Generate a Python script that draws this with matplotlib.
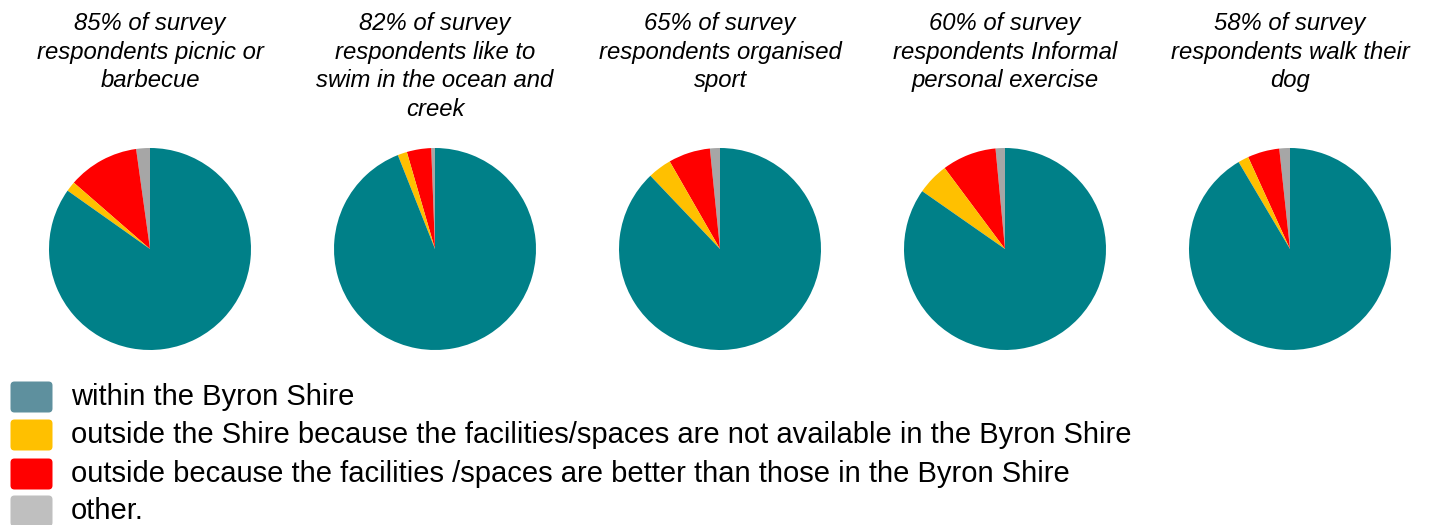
import matplotlib.pyplot as plt
from matplotlib.patches import FancyBboxPatch

plt.rcParams['font.family'] = ['Liberation Sans', 'DejaVu Sans']

# Share of respondents (%) by where they do the activity
titles = [
    "85% of survey\nrespondents picnic or\nbarbecue",
    "82% of survey\nrespondents like to\nswim in the ocean and\ncreek",
    "65% of survey\nrespondents organised\nsport",
    "60% of survey\nrespondents Informal\npersonal exercise",
    "58% of survey\nrespondents walk their\ndog",
]
within_shire = [84.8, 94.0, 87.9, 84.7, 91.5]
not_available = [1.6, 1.5, 3.8, 5.1, 1.7]
better_outside = [11.4, 3.9, 6.7, 8.7, 5.1]
other = [2.2, 0.6, 1.6, 1.5, 1.7]

legend_labels = [
    "within the Byron Shire",
    "outside the Shire because the facilities/spaces are not available in the Byron Shire",
    "outside because the facilities /spaces are better than those in the Byron Shire",
    "other.",
]
pie_colors = ["#A6A6A6", "#FF0000", "#FFC000", "#008088"]  # other, better, n/a, within
legend_colors = ["#5E909E", "#FFC000", "#FF0000", "#BFBFBF"]

W, H = 1429, 525
fig = plt.figure(figsize=(W / 100, H / 100), dpi=100)

centers_x = [150, 435, 720, 1005, 1290]
center_y = 249
r = 101

for i, cx in enumerate(centers_x):
    ax = fig.add_axes([(cx - r) / W, (H - center_y - r) / H, 2 * r / W, 2 * r / H])
    vals = [other[i], better_outside[i], not_available[i], within_shire[i]]
    ax.pie(vals, colors=pie_colors, startangle=90, counterclock=True,
           radius=1, wedgeprops=dict(linewidth=0))
    ax.set_xlim(-1, 1)
    ax.set_ylim(-1, 1)
    ax.set_aspect('equal')
    ax.axis('off')
    fig.text(cx / W, 1 - 12 / H, titles[i], ha='center', va='top',
             fontsize=17.2, style='italic', linespacing=1.31, color='black')

# legend drawn by hand with rounded swatches
lax = fig.add_axes([0, 0, 1, 1])
lax.set_xlim(0, W)
lax.set_ylim(H, 0)
lax.axis('off')
row_y = [397, 435, 474, 511]
for y, lab, col in zip(row_y, legend_labels, legend_colors):
    lax.add_patch(FancyBboxPatch((12, y - 14), 39, 28,
                                 boxstyle="round,pad=1.5,rounding_size=4",
                                 facecolor=col, edgecolor='none'))
    lax.text(71, y, lab, fontsize=21, va='center', ha='left', color='black')

fig.savefig("out.png", dpi=100)
